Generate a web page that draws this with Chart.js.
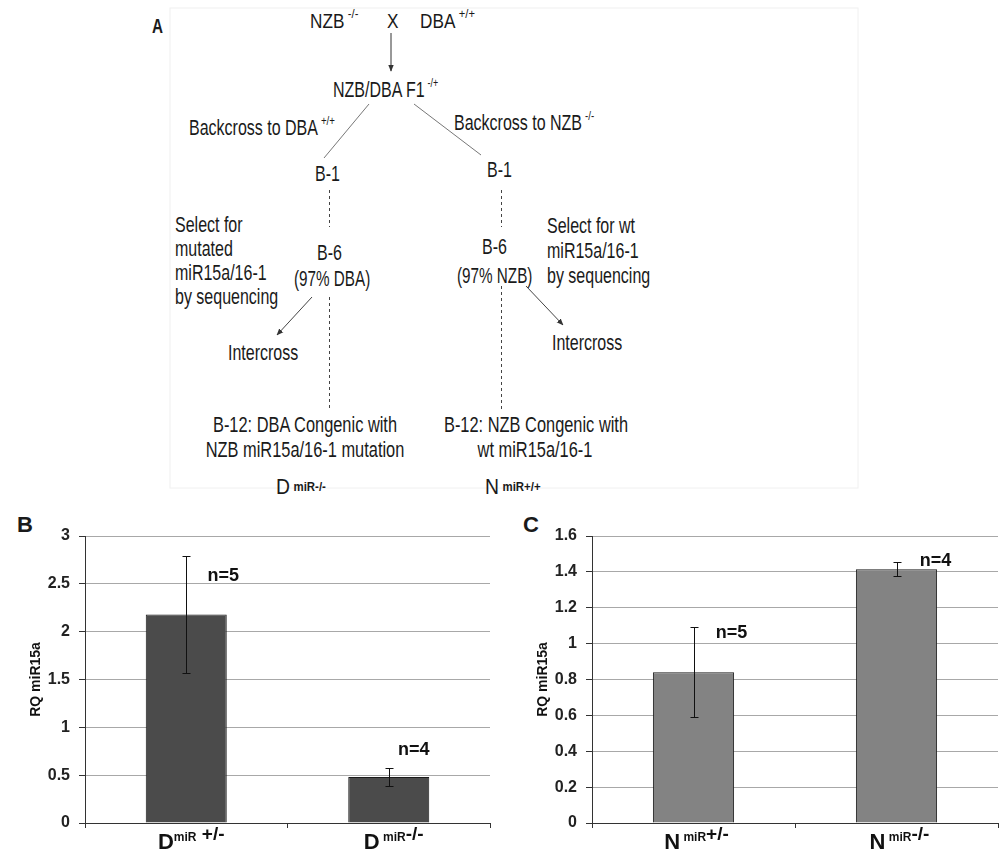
<!DOCTYPE html>
<html>
<head>
<meta charset="utf-8">
<script src="https://cdn.jsdelivr.net/npm/chart.js"></script>
<style>
  body { margin: 0; background: #fff; width: 1005px; height: 852px; overflow: hidden; position: relative; font-family: "Liberation Sans", Arial, sans-serif; }
  #diagram { position: absolute; left: 0; top: 0; }
  canvas { position: absolute; }
  #diagram text { fill: #1a1a1a; }
</style>
</head>
<body>

<!-- Panel A: breeding scheme (text is filled in below) -->
<svg id="diagram" width="1005" height="852">
  <defs>
    <marker id="head" viewBox="0 0 10 10" refX="9" refY="5" markerWidth="7" markerHeight="7" orient="auto">
      <path d="M0,1 L10,5 L0,9 z" fill="#333"/>
    </marker>
  </defs>
  <rect x="170" y="8" width="688" height="480" fill="none" stroke="#f0f0f0"/>

  <text x="152" y="33" font-size="21" font-weight="bold" textLength="11" lengthAdjust="spacingAndGlyphs">A</text>
  <text x="17" y="532" font-size="22" font-weight="bold">B</text>
  <text x="523" y="532" font-size="22" font-weight="bold">C</text>

  <line x1="391" y1="33" x2="391" y2="71" stroke="#333" stroke-width="1" marker-end="url(#head)"/>
  <line x1="369" y1="104" x2="324" y2="158" stroke="#777" stroke-width="1"/>
  <line x1="414" y1="104" x2="481" y2="155" stroke="#777" stroke-width="1"/>
  <g stroke="#444" stroke-width="1" stroke-dasharray="3,3">
    <line x1="329.5" y1="190" x2="329.5" y2="227"/>
    <line x1="329.5" y1="297" x2="329.5" y2="410"/>
    <line x1="501.5" y1="190" x2="501.5" y2="227"/>
    <line x1="501.5" y1="286" x2="501.5" y2="410"/>
  </g>
  <line x1="312" y1="297" x2="277" y2="335" stroke="#444" stroke-width="1" marker-end="url(#head)"/>
  <line x1="526" y1="286" x2="563" y2="325" stroke="#444" stroke-width="1" marker-end="url(#head)"/>
  <g id="schemeText"></g>
</svg>

<canvas id="chartB" width="500" height="342" style="left:0;top:510px"></canvas>
<canvas id="chartC" width="495" height="342" style="left:510px;top:510px"></canvas>

<script>
const FONT = '"Liberation Sans", Arial, sans-serif';

// Panel B: DBA background
const letterB = ['D', 'D'];
const tagB = ['miR', ' miR'];
const signB = [' +/-', '-/-'];
const valuesB = [2.18, 0.48];
const errorsB = [0.61, 0.09];
const countsB = ['n=5', 'n=4'];
const countPosB = [2.58, 0.76];
const ticksB = [0, 0.5, 1, 1.5, 2, 2.5, 3];

// Panel C: NZB background
const letterC = ['N', 'N'];
const tagC = [' miR', ' miR'];
const signC = ['+/-', '-/-'];
const valuesC = [0.84, 1.415];
const errorsC = [0.25, 0.038];
const countsC = ['n=5', 'n=4'];
const countPosC = [1.06, 1.46];
const ticksC = [0, 0.2, 0.4, 0.6, 0.8, 1, 1.2, 1.4, 1.6];

const yTitle = 'RQ miR15a';

// ---- panel A text (narrow, tall lettering like the original) ----
const sup = (s, size = 13) => `<tspan font-size="${size}" dx="4" dy="-10">${s}</tspan>`;
function t(x, y, inner, size = 21.5, sx = 0.745, anchor = 'start') {
  return `<text transform="translate(${x},${y}) scale(${sx},1)" font-size="${size}" text-anchor="${anchor}">${inner}</text>`;
}
document.getElementById('schemeText').innerHTML = [
  t(310, 28, 'NZB' + sup('-/-'), 20, 0.86),
  t(387, 28, 'X', 20, 0.86),
  t(420, 28, 'DBA' + sup('+/+'), 20, 0.86),
  t(333, 97, 'NZB/DBA F1' + sup('-/+', 12)),
  t(189, 135, 'Backcross to DBA' + sup('+/+')),
  t(454, 130, 'Backcross to NZB' + sup('-/-')),
  t(315, 181, 'B-1'),
  t(487, 177, 'B-1'),
  t(175, 232, 'Select for'),
  t(175, 256, 'mutated'),
  t(175, 280, 'miR15a/16-1'),
  t(175, 304, 'by sequencing'),
  t(317, 260, 'B-6'),
  t(294, 286, '(97% DBA)', 21.5, 0.71),
  t(228, 360, 'Intercross'),
  t(482, 254, 'B-6'),
  t(457, 283, '(97% NZB)', 21.5, 0.71),
  t(547, 233, 'Select for wt'),
  t(547, 258, 'miR15a/16-1'),
  t(547, 283, 'by sequencing'),
  t(552, 350, 'Intercross'),
  t(305, 432, 'B-12: DBA Congenic with', 21.5, 0.763, 'middle'),
  t(305, 457, 'NZB miR15a/16-1 mutation', 21.5, 0.763, 'middle'),
  t(536, 432, 'B-12: NZB Congenic with', 21.5, 0.763, 'middle'),
  t(535, 457, 'wt miR15a/16-1', 21.5, 0.763, 'middle'),
  t(276, 494, 'D<tspan font-size="13" font-weight="bold" dx="4" dy="-3">miR-/-</tspan>', 22, 0.88),
  t(485, 494, 'N<tspan font-size="13" font-weight="bold" dx="4" dy="-3">miR+/+</tspan>', 22, 0.88)
].join('');

// error bars, n= labels, axis title and category labels with superscripts
const extrasPlugin = {
  id: 'extras',
  afterDatasetsDraw(chart, args, o) {
    const ctx = chart.ctx;
    const y = chart.scales.y;
    const area = chart.chartArea;
    const bars = chart.getDatasetMeta(0).data;
    ctx.save();
    ctx.strokeStyle = '#111';
    ctx.lineWidth = 1;
    bars.forEach((bar, i) => {
      const x = Math.round(bar.x) + 0.5;
      const top = Math.round(y.getPixelForValue(o.values[i] + o.errors[i])) + 0.5;
      const bot = Math.round(y.getPixelForValue(o.values[i] - o.errors[i])) + 0.5;
      ctx.beginPath();
      ctx.moveTo(x, top); ctx.lineTo(x, bot);
      ctx.moveTo(x - 4, top); ctx.lineTo(x + 4, top);
      ctx.moveTo(x - 4, bot); ctx.lineTo(x + 4, bot);
      ctx.stroke();

      ctx.fillStyle = '#111';
      ctx.font = 'bold 18px ' + FONT;
      ctx.textAlign = 'center';
      ctx.textBaseline = 'middle';
      ctx.fillText(o.counts[i], bar.x + o.countDx[i], y.getPixelForValue(o.countPos[i]));

      // category label: big letter + small "miR" + genotype
      const parts = [o.letters[i], o.tags[i], o.signs[i]];
      const fonts = ['bold 22px ' + FONT, 'bold 12px ' + FONT, 'bold 19px ' + FONT];
      const dys = [0, -8, -9];
      const base = chart.height - 3;
      ctx.textAlign = 'left';
      ctx.textBaseline = 'alphabetic';
      const widths = parts.map((p, k) => { ctx.font = fonts[k]; return ctx.measureText(p).width; });
      let lx = bar.x + o.labelDx - widths.reduce((a, b) => a + b, 0) / 2;
      parts.forEach((p, k) => {
        ctx.font = fonts[k];
        ctx.fillText(p, lx, base + dys[k]);
        lx += widths[k];
      });
    });

    ctx.translate(area.left - 49, (area.top + area.bottom) / 2);
    ctx.rotate(-Math.PI / 2);
    ctx.font = 'bold 14px ' + FONT;
    ctx.textAlign = 'center';
    ctx.textBaseline = 'middle';
    ctx.fillText(yTitle, 0, 0);
    ctx.restore();
  }
};

function makeChart(id, p) {
  const labels = p.letters.map((l, i) => l + p.tags[i] + p.signs[i]);
  return new Chart(document.getElementById(id), {
    type: 'bar',
    data: {
      labels,
      datasets: [{
        data: p.values,
        backgroundColor: p.color,
        borderColor: '#1a1a1a',
        borderWidth: 1,
        barPercentage: 0.4,
        categoryPercentage: 1.0
      }]
    },
    options: {
      responsive: false,
      animation: false,
      layout: { padding: p.padding },
      plugins: {
        legend: { display: false },
        tooltip: { enabled: false },
        extras: {
          values: p.values, errors: p.errors, counts: p.counts, countPos: p.countPos,
          countDx: p.countDx, letters: p.letters, tags: p.tags, signs: p.signs, labelDx: p.labelDx
        }
      },
      scales: {
        x: {
          ticks: { display: false },
          grid: { display: true, drawOnChartArea: false, offset: true, tickLength: 5, tickColor: '#333' },
          border: { color: '#333', width: 1 },
          afterFit: s => { s.height = 29; }
        },
        y: {
          min: p.ticks[0],
          max: p.ticks[p.ticks.length - 1],
          ticks: {
            stepSize: p.ticks[1] - p.ticks[0],
            color: '#222',
            padding: 9,
            font: { family: FONT, size: 16, weight: 'bold' },
            callback: v => String(+v.toFixed(2))
          },
          grid: { color: '#a8a8a8', tickColor: '#333', tickLength: 6 },
          border: { color: '#333', width: 1 },
          afterFit: s => { s.width = 65; }
        }
      }
    },
    plugins: [extrasPlugin]
  });
}

makeChart('chartB', {
  letters: letterB, tags: tagB, signs: signB,
  values: valuesB, errors: errorsB, counts: countsB, countPos: countPosB,
  countDx: [37, 25], labelDx: 5, ticks: ticksB, color: '#4b4b4b',
  padding: { top: 26, left: 20, right: 10, bottom: 0 }
});

makeChart('chartC', {
  letters: letterC, tags: tagC, signs: signC,
  values: valuesC, errors: errorsC, counts: countsC, countPos: countPosC,
  countDx: [38, 39], labelDx: 3, ticks: ticksC, color: '#838383',
  padding: { top: 26, left: 17, right: 7, bottom: 0 }
});
</script>
</body>
</html>
